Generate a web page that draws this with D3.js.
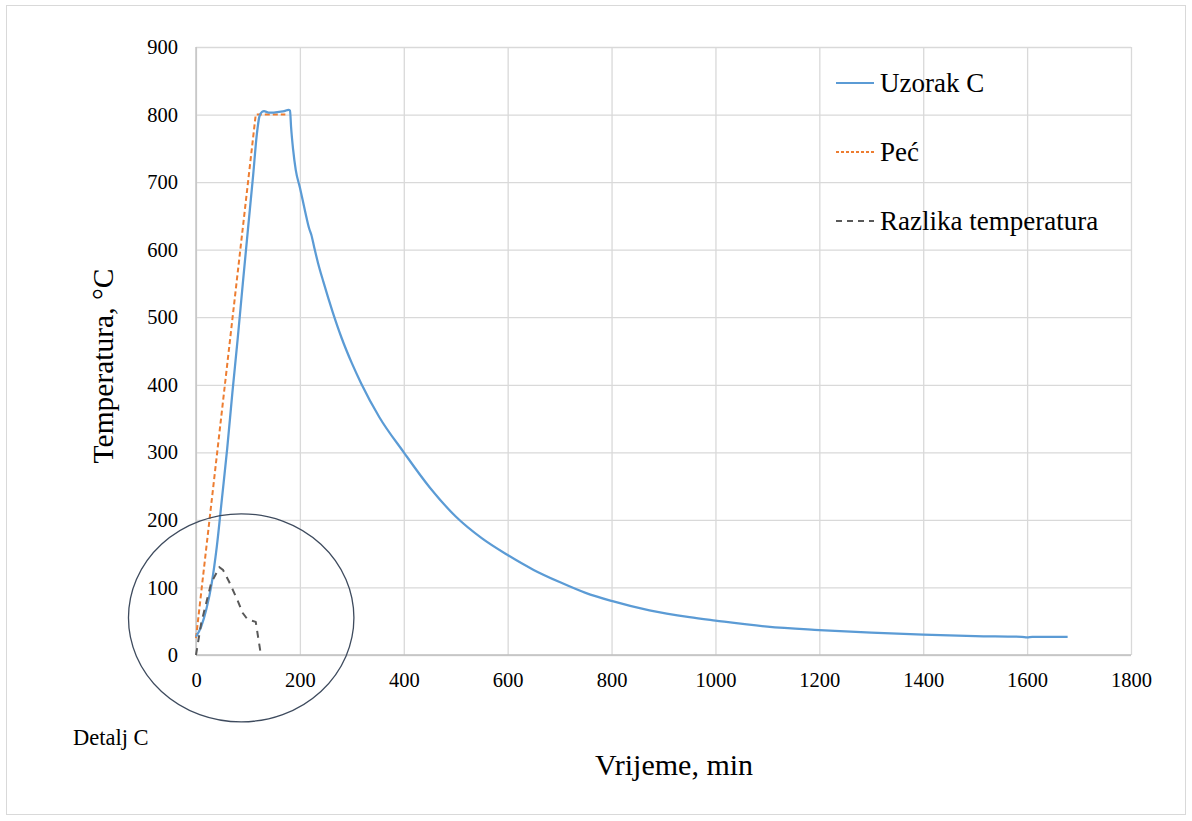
<!DOCTYPE html>
<html>
<head>
<meta charset="utf-8">
<script src="https://cdn.jsdelivr.net/npm/d3@7"></script>
<style>
  body { margin: 0; background: #fff; }
  text { font-family: "Liberation Serif", "Times New Roman", serif; fill: #000; }
</style>
</head>
<body>
<div id="chart"></div>
<script>
// Uzorak C (sample) temperature, [min, °C]
var uzorakTime = [0, 10, 20, 30, 40, 50, 60, 70, 80, 90, 100, 110, 117, 122, 127, 131, 140, 150, 160, 170, 178, 181,
  183, 187, 192, 200, 210, 218, 222, 228, 235, 245, 263, 280, 300, 318, 353, 400, 450, 500, 550, 600, 650, 700, 750, 800,
  873, 950, 1000, 1100, 1200, 1300, 1400, 1500, 1590, 1600, 1610, 1678];
var uzorakTemp = [27, 42, 68, 105, 160, 232, 305, 388, 466, 549, 630, 710, 770, 797, 804, 805, 803, 803, 804, 805, 807, 806,
  782, 748, 718, 692, 657, 631, 622, 602, 580, 553, 508, 470, 432, 402, 352, 300, 248, 205, 173, 148, 126, 108, 92, 80,
  66, 56, 51, 42, 37, 33, 30, 28, 27, 26, 27, 27];

// Peć (furnace) temperature
var pecTime = [0, 115, 172];
var pecTemp = [25, 800, 800];

// Razlika temperatura (difference)
var razTime = [0, 10, 29, 45, 52, 64, 80, 90, 99, 115, 125];
var razTemp = [0, 47, 106, 130, 126, 108, 81, 62, 53, 49, 0];

var xTicks = [0, 200, 400, 600, 800, 1000, 1200, 1400, 1600, 1800];
var yTicks = [0, 100, 200, 300, 400, 500, 600, 700, 800, 900];

var seriesNames = ["Uzorak C", "Peć", "Razlika temperatura"];

// "Detalj C" ellipse, in data units: centre [min, °C] and radii
var detailCentre = [87, 55];
var detailRadii = [217, 154];

var W = 1192, H = 821;
var margin = {top: 47, right: 61, bottom: 166, left: 196},
    width = W - margin.left - margin.right,
    height = H - margin.top - margin.bottom;
var serif = "'Liberation Serif', 'Times New Roman', serif";

var svg = d3.select("#chart").append("svg")
  .attr("width", W).attr("height", H);

// outer chart frame
svg.append("rect")
  .attr("x", 6.5).attr("y", 5.5)
  .attr("width", 1179).attr("height", 809)
  .attr("fill", "none").attr("stroke", "#d9d9d9");

var g = svg.append("g")
  .attr("transform", "translate(" + margin.left + "," + margin.top + ")");

var x = d3.scaleLinear().domain([0, 1800]).range([0, width]);
var y = d3.scaleLinear().domain([0, 900]).range([height, 0]);

// gridlines
g.append("g")
  .call(d3.axisBottom(x).tickValues(xTicks).tickSize(height).tickFormat(""))
  .call(function(s) { s.select(".domain").remove(); })
  .selectAll("line").attr("stroke", "#d9d9d9").attr("stroke-width", 1.3);
g.append("g")
  .call(d3.axisLeft(y).tickValues(yTicks).tickSize(-width).tickFormat(""))
  .call(function(s) { s.select(".domain").remove(); })
  .selectAll("line").attr("stroke", "#d9d9d9").attr("stroke-width", 1.3);

// left / bottom axes lines
g.append("line").attr("x1", 0).attr("x2", 0).attr("y1", 0).attr("y2", height)
  .attr("stroke", "#bfbfbf").attr("stroke-width", 1.3);
g.append("line").attr("x1", 0).attr("x2", width).attr("y1", height).attr("y2", height)
  .attr("stroke", "#bfbfbf").attr("stroke-width", 1.3);

// tick labels
var xAxis = g.append("g")
  .attr("transform", "translate(0," + height + ")")
  .call(d3.axisBottom(x).tickValues(xTicks).tickFormat(d3.format("d")).tickSize(0).tickPadding(17))
  .attr("font-family", serif).attr("font-size", 20.5);
xAxis.select(".domain").remove();

var yAxis = g.append("g")
  .call(d3.axisLeft(y).tickValues(yTicks).tickFormat(d3.format("d")).tickSize(0).tickPadding(18))
  .attr("font-family", serif).attr("font-size", 20.5);
yAxis.select(".domain").remove();

// axis titles
svg.append("text")
  .attr("x", 674).attr("y", 775)
  .attr("text-anchor", "middle")
  .style("font-size", "30px")
  .text("Vrijeme, min");
svg.append("text")
  .attr("transform", "translate(113,366) rotate(-90)")
  .attr("text-anchor", "middle")
  .style("font-size", "29.5px")
  .text("Temperatura, °C");

var line = d3.line()
  .x(function(d) { return x(d[0]); })
  .y(function(d) { return y(d[1]); });

function pairs(ts, vs) { return ts.map(function(t, i) { return [t, vs[i]]; }); }

g.append("path")
  .datum(pairs(pecTime, pecTemp))
  .attr("d", line)
  .attr("fill", "none").attr("stroke", "#ED7D31")
  .attr("stroke-width", 2).attr("stroke-dasharray", "5,3");

g.append("path")
  .datum(pairs(uzorakTime, uzorakTemp))
  .attr("d", line.curve(d3.curveMonotoneX))
  .attr("fill", "none").attr("stroke", "#5B9BD5")
  .attr("stroke-width", 2.25).attr("stroke-linejoin", "round");

g.append("path")
  .datum(pairs(razTime, razTemp))
  .attr("d", line.curve(d3.curveLinear))
  .attr("fill", "none").attr("stroke", "#595959")
  .attr("stroke-width", 2).attr("stroke-dasharray", "7,6");

// detail ellipse
g.append("ellipse")
  .attr("cx", x(detailCentre[0])).attr("cy", y(detailCentre[1]))
  .attr("rx", x(detailRadii[0]) - x(0)).attr("ry", y(0) - y(detailRadii[1]))
  .attr("fill", "none").attr("stroke", "#3e4b5e").attr("stroke-width", 1.3);

svg.append("text")
  .attr("x", 73).attr("y", 745)
  .style("font-size", "22.5px")
  .text("Detalj C");

// legend
var legendStyles = [
  {color: "#5B9BD5", dash: null, w: 2},
  {color: "#ED7D31", dash: "3,2", w: 1.8},
  {color: "#595959", dash: "6,5", w: 1.8}
];
var legend = svg.append("g").attr("transform", "translate(836,83)");
seriesNames.forEach(function(name, i) {
  var row = legend.append("g").attr("transform", "translate(0," + (i * 69) + ")");
  row.append("line")
    .attr("x1", 0).attr("x2", 38).attr("y1", 0).attr("y2", 0)
    .attr("stroke", legendStyles[i].color)
    .attr("stroke-width", legendStyles[i].w)
    .attr("stroke-dasharray", legendStyles[i].dash);
  row.append("text")
    .attr("x", 44).attr("y", 9)
    .style("font-size", "27px")
    .text(name);
});
</script>
</body>
</html>
